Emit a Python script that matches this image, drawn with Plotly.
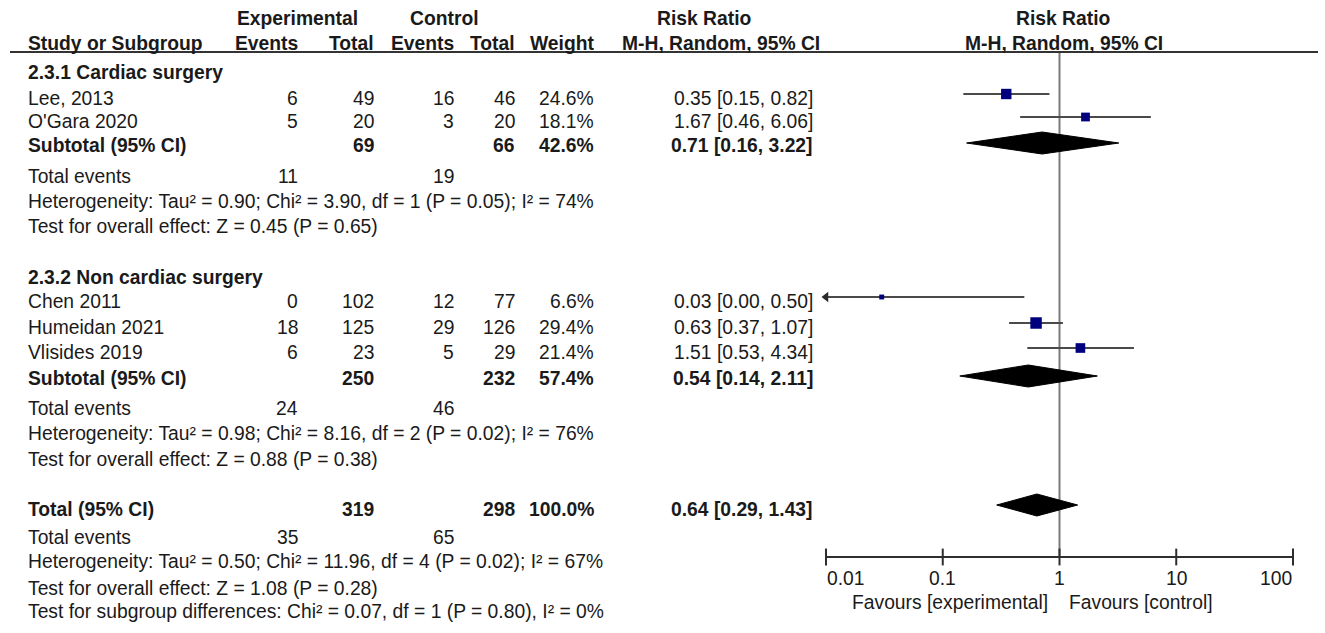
import math
import plotly.graph_objects as go

# ---------------- data ----------------
group_names = ["2.3.1 Cardiac surgery", "2.3.2 Non cardiac surgery"]

study_names = ["Lee, 2013", "O'Gara 2020", "Chen 2011", "Humeidan 2021", "Vlisides 2019"]
study_group = [0, 0, 1, 1, 1]
exp_events = [6, 5, 0, 18, 6]
exp_total = [49, 20, 102, 125, 23]
ctl_events = [16, 3, 12, 29, 5]
ctl_total = [46, 20, 77, 126, 29]
weight = [24.6, 18.1, 6.6, 29.4, 21.4]
rr = [0.35, 1.67, 0.03, 0.63, 1.51]
rr_lo = [0.15, 0.46, 0.00, 0.37, 0.53]
rr_hi = [0.82, 6.06, 0.50, 1.07, 4.34]

sub_exp_total = [69, 250]
sub_ctl_total = [66, 232]
sub_weight = [42.6, 57.4]
sub_rr = [0.71, 0.54]
sub_lo = [0.16, 0.14]
sub_hi = [3.22, 2.11]
sub_exp_events = [11, 24]
sub_ctl_events = [19, 46]
sub_het = ["Heterogeneity: Tau² = 0.90; Chi² = 3.90, df = 1 (P = 0.05); I² = 74%",
           "Heterogeneity: Tau² = 0.98; Chi² = 8.16, df = 2 (P = 0.02); I² = 76%"]
sub_z = ["Test for overall effect: Z = 0.45 (P = 0.65)",
         "Test for overall effect: Z = 0.88 (P = 0.38)"]

tot_exp_total = 319
tot_ctl_total = 298
tot_weight = 100.0
tot_rr, tot_lo, tot_hi = 0.64, 0.29, 1.43
tot_exp_events = 35
tot_ctl_events = 65
tot_het = "Heterogeneity: Tau² = 0.50; Chi² = 11.96, df = 4 (P = 0.02); I² = 67%"
tot_z = "Test for overall effect: Z = 1.08 (P = 0.28)"
subgroup_test = "Test for subgroup differences: Chi² = 0.07, df = 1 (P = 0.80), I² = 0%"

tick_vals = [0.01, 0.1, 1, 10, 100]
tick_text = ["0.01", "0.1", "1", "10", "100"]
favours_left = "Favours [experimental]"
favours_right = "Favours [control]"

# ---------------- layout constants (pixels) ----------------
W, H = 1325, 633
FS = 19.3
FONT = "Arial, Liberation Sans, sans-serif"
TXT = "#1a1a1a"
X_NAME = 27
X_EE, X_ET, X_CE, X_CT, X_W, X_RR = 299, 375, 455, 516, 595, 814
PLOT_L, PLOT_R = 826, 1293
AXIS_Y = 557
LINE_Y = 52
MARK_DY = -4

study_rows = [98, 121, 301, 327, 352]
group_rows = [72, 277]
sub_rows = [145, 378]
sub_events_rows = [176, 408]
sub_het_rows = [201, 433]
sub_z_rows = [226, 459]
tot_row, tot_events_row, tot_het_row, tot_z_row, subgroup_row = 509, 537, 561, 588, 611

fig = go.Figure()


def txt(s, x, y, anchor="left", bold=False, size=FS):
    fig.add_annotation(text=("<b>%s</b>" % s) if bold else s, x=x / W, xref="paper",
                       y=y, yref="y", xanchor=anchor, yanchor="middle", showarrow=False,
                       font=dict(family=FONT, size=size, color=TXT), borderpad=0)


# headers
txt("Experimental", 297, 18, "center", True)
txt("Control", 444, 18, "center", True)
txt("Risk Ratio", 704, 18, "center", True)
txt("Risk Ratio", 1063, 18, "center", True)
txt("Study or Subgroup", X_NAME, 43, "left", True)
txt("Events", X_EE, 43, "right", True)
txt("Total", X_ET, 43, "right", True)
txt("Events", X_CE, 43, "right", True)
txt("Total", X_CT, 43, "right", True)
txt("Weight", X_W, 43, "right", True)
txt("M-H, Random, 95% CI", 721, 43, "center", True)
txt("M-H, Random, 95% CI", 1064, 43, "center", True)
fig.add_shape(type="line", xref="paper", yref="y", x0=10 / W, x1=1318 / W, y0=LINE_Y, y1=LINE_Y,
              line=dict(color="#333333", width=2))


def fmt_ci(r, lo, hi):
    return "%.2f [%.2f, %.2f]" % (r, lo, hi)


# study rows text
for i, name in enumerate(study_names):
    y = study_rows[i]
    txt(name, X_NAME, y)
    txt(str(exp_events[i]), X_EE, y, "right")
    txt(str(exp_total[i]), X_ET, y, "right")
    txt(str(ctl_events[i]), X_CE, y, "right")
    txt(str(ctl_total[i]), X_CT, y, "right")
    txt("%.1f%%" % weight[i], X_W, y, "right")
    txt(fmt_ci(rr[i], rr_lo[i], rr_hi[i]), X_RR, y, "right")

for g, gname in enumerate(group_names):
    txt(gname, X_NAME, group_rows[g], "left", True)
    y = sub_rows[g]
    txt("Subtotal (95% CI)", X_NAME, y, "left", True)
    txt(str(sub_exp_total[g]), X_ET, y, "right", True)
    txt(str(sub_ctl_total[g]), X_CT, y, "right", True)
    txt("%.1f%%" % sub_weight[g], X_W, y, "right", True)
    txt(fmt_ci(sub_rr[g], sub_lo[g], sub_hi[g]), X_RR, y, "right", True)
    txt("Total events", X_NAME, sub_events_rows[g])
    txt(str(sub_exp_events[g]), X_EE, sub_events_rows[g], "right")
    txt(str(sub_ctl_events[g]), X_CE, sub_events_rows[g], "right")
    txt(sub_het[g], X_NAME, sub_het_rows[g])
    txt(sub_z[g], X_NAME, sub_z_rows[g])

txt("Total (95% CI)", X_NAME, tot_row, "left", True)
txt(str(tot_exp_total), X_ET, tot_row, "right", True)
txt(str(tot_ctl_total), X_CT, tot_row, "right", True)
txt("%.1f%%" % tot_weight, X_W, tot_row, "right", True)
txt(fmt_ci(tot_rr, tot_lo, tot_hi), X_RR, tot_row, "right", True)
txt("Total events", X_NAME, tot_events_row)
txt(str(tot_exp_events), X_EE, tot_events_row, "right")
txt(str(tot_ctl_events), X_CE, tot_events_row, "right")
txt(tot_het, X_NAME, tot_het_row)
txt(tot_z, X_NAME, tot_z_row)
txt(subgroup_test, X_NAME, subgroup_row)

# ---------------- forest plot ----------------
xmin, xmax = tick_vals[0], tick_vals[-1]

# line of no effect
fig.add_trace(go.Scatter(x=[1, 1], y=[LINE_Y, AXIS_Y], mode="lines",
                         line=dict(color="#7a7a7a", width=2), hoverinfo="skip"))

# CI lines
for i in range(len(study_names)):
    y = study_rows[i] + MARK_DY
    lo = max(rr_lo[i], xmin)
    fig.add_trace(go.Scatter(x=[lo, rr_hi[i]], y=[y, y], mode="lines",
                             line=dict(color="#4a4a4a", width=2), hoverinfo="skip"))
    if rr_lo[i] < xmin:
        fig.add_trace(go.Scatter(x=[xmin], y=[y], mode="markers",
                                 marker=dict(symbol="triangle-left", size=9, color="#2a2a2a"),
                                 hoverinfo="skip"))

# squares
fig.add_trace(go.Scatter(
    x=rr, y=[r + MARK_DY for r in study_rows], mode="markers",
    marker=dict(symbol="square", color="#00007f", opacity=1,
                size=[2.3 * math.sqrt(w) - 1 for w in weight], line=dict(width=0)),
    hoverinfo="skip"))

# diamonds
HALF = 11
diamonds = [(sub_rr[g], sub_lo[g], sub_hi[g], sub_rows[g] - 2) for g in range(2)]
diamonds.append((tot_rr, tot_lo, tot_hi, tot_row - 4))
for est, lo, hi, y in diamonds:
    fig.add_trace(go.Scatter(x=[lo, est, hi, est, lo], y=[y, y - HALF, y, y + HALF, y],
                             mode="lines", fill="toself", fillcolor="#000000",
                             line=dict(color="#000000", width=1), hoverinfo="skip"))

# axis
fig.add_trace(go.Scatter(x=[xmin, xmax], y=[AXIS_Y, AXIS_Y], mode="lines",
                         line=dict(color="#2e2e2e", width=2), hoverinfo="skip"))
fig.add_trace(go.Scatter(x=tick_vals, y=[AXIS_Y] * len(tick_vals), mode="markers",
                         marker=dict(symbol="line-ns", size=12,
                                     line=dict(color="#2e2e2e", width=2)),
                         hoverinfo="skip"))
for k, (tv, tt) in enumerate(zip(tick_vals, tick_text)):
    anchor = "left" if k == 0 else ("right" if k == len(tick_vals) - 1 else "center")
    fig.add_annotation(text=tt, x=math.log10(tv), xref="x", y=578, yref="y",
                       xanchor=anchor, yanchor="middle", showarrow=False, borderpad=0,
                       font=dict(family=FONT, size=FS, color=TXT))
txt(favours_left, 1049, 602, "right")
txt(favours_right, 1068, 602, "left")

for tr in fig.data:
    tr.cliponaxis = False

fig.update_layout(
    width=W, height=H, margin=dict(l=0, r=0, t=0, b=0),
    paper_bgcolor="white", plot_bgcolor="white", showlegend=False,
    xaxis=dict(type="log", range=[math.log10(xmin), math.log10(xmax)],
               domain=[PLOT_L / W, PLOT_R / W], visible=False, fixedrange=True),
    yaxis=dict(range=[H, 0], domain=[0, 1], visible=False, fixedrange=True),
)

fig.write_html("out.html", config={"displayModeBar": False},
               post_script="document.body.style.margin='0';document.body.style.overflow='hidden';")
